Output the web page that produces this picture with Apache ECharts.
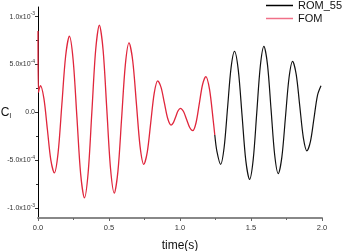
<!DOCTYPE html>
<html><head><meta charset="utf-8">
<script src="https://cdn.jsdelivr.net/npm/echarts@6/dist/echarts.min.js"></script>
<style>html,body{margin:0;padding:0;background:#fff}#c{width:343px;height:251px}</style>
</head><body><div id="c"></div>
<script>
// FOM (red) series (time in s, value in units of 1e-4)
const fomTime  = [0, 0.003, 0.017, 0.0415, 0.066, 0.0905, 0.115, 0.1415, 0.168, 0.1945, 0.221, 0.2475, 0.274, 0.3005, 0.327, 0.3533, 0.3795, 0.4058, 0.432, 0.4583, 0.4845, 0.5108, 0.537, 0.563, 0.589, 0.615, 0.641, 0.667, 0.693, 0.719, 0.745, 0.7695, 0.794, 0.8185, 0.843, 0.8665, 0.890, 0.9135, 0.937, 0.9535, 0.970, 0.9865, 1.003, 1.0248, 1.0465, 1.0683, 1.090, 1.113, 1.136, 1.159, 1.182, 1.208, 1.234, 1.245];
const fomValue = [8.5, 2.1, 2.8, 1.47, -1.75, -4.97, -6.3, -4.21, 0.83, 5.86, 7.95, 5.48, -0.48, -6.43, -8.9, -6.26, 0.1, 6.46, 9.1, 6.54, 0.35, -5.84, -8.4, -6.11, -0.58, 4.96, 7.25, 5.40, 0.93, -3.55, -5.4, -4.13, -1.05, 2.03, 3.3, 2.62, 1.0, -0.63, -1.31, -1.05, -0.44, 0.18, 0.44, 0.10, -0.73, -1.56, -1.9, -1.07, 0.93, 2.92, 3.75, 2.41, -0.83, -2.35];
// ROM_55 (black) series
const romTime  = [1.245, 1.26, 1.286, 1.3105, 1.335, 1.3595, 1.384, 1.4105, 1.437, 1.4635, 1.490, 1.5153, 1.5405, 1.5658, 1.591, 1.6163, 1.6415, 1.6668, 1.692, 1.7173, 1.7425, 1.7678, 1.793, 1.8183, 1.8435, 1.8688, 1.894, 1.9188, 1.9435, 1.9683, 1.993];
const romValue = [-2.35, -4.06, -5.4, -3.68, 0.49, 4.65, 6.37, 4.42, -0.3, -5.02, -6.97, -4.94, -0.04, 4.87, 6.9, 4.96, 0.27, -4.43, -6.37, -4.66, -0.52, 3.62, 5.33, 3.97, 0.67, -2.64, -4.0, -3.01, -0.61, 1.79, 2.78];
const valueUnit = 1e-4;

const seriesNames = ['ROM_55', 'FOM'];
const yTickValues = [-1e-3, -5e-4, 0, 5e-4, 1e-3];
const yTickMantissa = ['-1.0', '-5.0', '0.0', '5.0', '1.0'];
const yTickExponent = ['-3', '-4', '', '-4', '-3'];
const yMinorValues = [-1.0e-3, -7.5e-4, -5e-4, -2.5e-4, 0, 2.5e-4, 5e-4, 7.5e-4, 1e-3];

const zip = (a, b) => a.map((v, i) => [v, b[i] * valueUnit]);
const font = 'Liberation Sans, Arial, sans-serif';

const chart = echarts.init(document.getElementById('c'), null, {renderer: 'canvas'});
chart.setOption({
  animation: false,
  backgroundColor: '#fff',
  grid: {left: 38, right: 21, top: 7, bottom: 33, containLabel: false, outerBoundsMode: 'none'},
  legend: {
    data: [{name: seriesNames[0], itemStyle: {color: '#000'}},
           {name: seriesNames[1], itemStyle: {color: '#f07088'}}],
    orient: 'vertical', icon: 'rect',
    left: 266, top: 0, padding: 0,
    itemWidth: 27, itemHeight: 1.5, itemGap: 2,
    textStyle: {fontFamily: font, fontSize: 11, color: '#111'}
  },
  xAxis: {
    type: 'value', min: 0, max: 2, interval: 0.5,
    name: 'time(s)', nameLocation: 'middle', nameGap: 22, nameMoveOverlap: false,
    nameTextStyle: {fontFamily: font, fontSize: 12, color: '#111'},
    axisLine: {onZero: false, lineStyle: {color: '#888', width: 2}},
    axisTick: {show: true, length: 3, lineStyle: {color: '#666'}},
    minorTick: {show: true, splitNumber: 2, length: 2, lineStyle: {color: '#666'}},
    axisLabel: {fontFamily: font, fontSize: 7.5, color: '#333', margin: 6,
      formatter: v => v.toFixed(1)},
    splitLine: {show: false}
  },
  yAxis: [{
    type: 'value', min: -1.1e-3, max: 1.1e-3,
    name: '{c|C}{s|l}', nameLocation: 'middle', nameRotate: 0, nameGap: 27, nameMoveOverlap: false,
    nameTextStyle: {fontFamily: font, color: '#111',
      rich: {c: {fontSize: 12, fontFamily: font, color: '#111'},
             s: {fontSize: 7, fontFamily: font, color: '#111', padding: [8, 0, 0, 0]}}},
    axisLine: {show: true, onZero: false, lineStyle: {color: '#000', width: 1}},
    axisTick: {show: true, length: 3, customValues: yTickValues, lineStyle: {color: '#333'}},
    axisLabel: {
      customValues: yTickValues, margin: 3, color: '#333',
      formatter: function (v) {
        let idx = 0, best = Infinity;
        yTickValues.forEach((t, i) => { const d = Math.abs(t - v); if (d < best) { best = d; idx = i; } });
        const m = yTickMantissa[idx], e = yTickExponent[idx];
        return e ? '{b|' + m + 'x10}{p|' + e + '}' : '{b|' + m + '}';
      },
      rich: {
        b: {fontFamily: font, fontSize: 7, color: '#333'},
        p: {fontFamily: font, fontSize: 5, color: '#333', padding: [0, 0, 5, 0]}
      }
    },
    splitLine: {show: false}
  }, {
    type: 'value', min: -1.1e-3, max: 1.1e-3, position: 'left',
    axisLine: {show: false},
    axisTick: {show: true, length: 2, customValues: yMinorValues, lineStyle: {color: '#333'}},
    axisLabel: {show: false},
    splitLine: {show: false}
  }],
  series: [{
    name: 'ROM_55', type: 'line', data: zip(romTime, romValue),
    symbol: 'none', smooth: 0.3, z: 3,
    lineStyle: {color: '#111', width: 1.2}
  }, {
    name: 'FOM', type: 'line', data: zip(fomTime, fomValue),
    symbol: 'none', smooth: 0.3, z: 2,
    lineStyle: {color: '#e0263c', width: 1.3}
  }]
});
</script>
</body></html>
